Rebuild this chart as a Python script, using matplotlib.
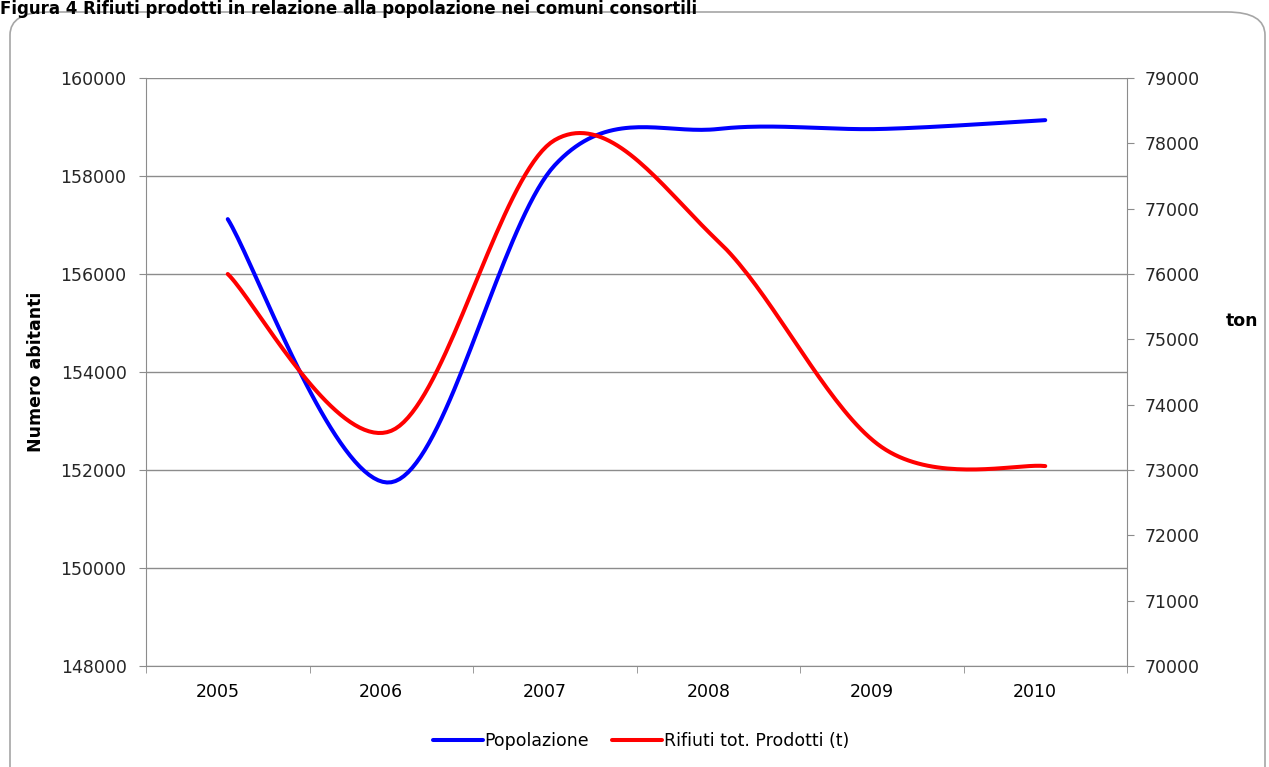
import numpy as np
import matplotlib.pyplot as plt
from matplotlib.patches import FancyBboxPatch
from matplotlib.transforms import ScaledTranslation

anni = ['2005', '2006', '2007', '2008', '2009', '2010']
popolazione = [157120, 151750, 158220, 158960, 158960, 159140]
rifiuti = [76000, 73600, 78050, 76500, 73350, 73060]


def smooth(xs, ys, n=40):
    # bezier smoothing as in spreadsheet "smoothed line" charts
    xs = np.asarray(xs, float)
    ys = np.asarray(ys, float)
    px, py = [], []
    for i in range(len(xs) - 1):
        i0 = max(i - 1, 0)
        i3 = min(i + 2, len(xs) - 1)
        p0 = np.array([xs[i], ys[i]])
        p3 = np.array([xs[i + 1], ys[i + 1]])
        c1 = p0 + (p3 - np.array([xs[i0], ys[i0]])) / 6
        c2 = p3 - (np.array([xs[i3], ys[i3]]) - p0) / 6
        t = np.linspace(0, 1, n)[:, None]
        pts = (1 - t) ** 3 * p0 + 3 * (1 - t) ** 2 * t * c1 + 3 * (1 - t) * t ** 2 * c2 + t ** 3 * p3
        px.extend(pts[:, 0])
        py.extend(pts[:, 1])
    return np.array(px), np.array(py)


plt.rcParams['font.family'] = ['DejaVu Sans']
grey = '#8c8c8c'
fs = 12.5

fig = plt.figure(figsize=(12.69, 7.67), dpi=100)

# rounded chart frame
frame = FancyBboxPatch((10 / 1269, -0.05), 1255 / 1269, 1.05 - 12 / 767,
                       boxstyle='round,pad=0,rounding_size=0.03',
                       transform=fig.transFigure, facecolor='none',
                       edgecolor='#a6a6a6', lw=1.2, zorder=0)
fig.patches.append(frame)

fig.text(0.0, 1.0, 'Figura 4 Rifiuti prodotti in relazione alla popolazione nei comuni consortili',
         fontsize=12, fontweight='bold', va='top', ha='left')

ax = fig.add_axes([146 / 1269, 101 / 767, 981 / 1269, 588 / 767])
ax.set_facecolor('none')
x = np.arange(len(anni))

bx, by = smooth(x, popolazione)
ax.plot(bx, by, color='#0000ff', lw=2.9, solid_capstyle='round', label='Popolazione', zorder=3)

ax.set_xlim(-0.5, 5.5)
ax.set_ylim(148000, 160000)
ax.set_yticks(np.arange(148000, 160001, 2000))
ax.yaxis.grid(True, color=grey, lw=1)
ax.set_axisbelow(True)
ax.set_xticks(x)
ax.set_xticklabels(anni)
ax.set_xticks(np.arange(-0.5, 5.6, 1), minor=True)
ax.tick_params(axis='x', which='major', length=0, pad=12, labelsize=fs)
ax.tick_params(axis='x', which='minor', length=5, color=grey)
ax.tick_params(axis='y', length=5, color=grey, labelsize=fs, pad=9, labelcolor='#262626')
for lab in ax.get_xticklabels():
    lab.set_transform(lab.get_transform() + ScaledTranslation(-0.1, 0, fig.dpi_scale_trans))
for s in ['top', 'right']:
    ax.spines[s].set_visible(False)
for s in ['left', 'bottom']:
    ax.spines[s].set_color(grey)
ax.set_ylabel('Numero abitanti', fontsize=fs, fontweight='bold')
ax.yaxis.set_label_coords(-0.103, 0.5)

ax2 = ax.twinx()
rx, ry = smooth(x, rifiuti)
ax2.plot(rx, ry, color='#ff0000', lw=2.9, solid_capstyle='round', label='Rifiuti tot. Prodotti (t)', zorder=3)
ax2.set_ylim(70000, 79000)
ax2.set_yticks(np.arange(70000, 79001, 1000))
ax2.tick_params(axis='y', length=5, color=grey, labelsize=fs, pad=8, labelcolor='#262626')
for s in ['top', 'left', 'bottom']:
    ax2.spines[s].set_visible(False)
ax2.spines['right'].set_color(grey)
fig.text(1226 / 1269, 1 - 321 / 767, 'ton', fontsize=fs, fontweight='bold', va='center', ha='left')

h1, l1 = ax.get_legend_handles_labels()
h2, l2 = ax2.get_legend_handles_labels()
fig.legend(h1 + h2, l1 + l2, loc='center', bbox_to_anchor=(0.505, 1 - 741 / 767),
           ncol=2, frameon=False, fontsize=fs, handlelength=2.9, handletextpad=0.1,
           columnspacing=1.3)

fig.savefig('out.png', dpi=100)
